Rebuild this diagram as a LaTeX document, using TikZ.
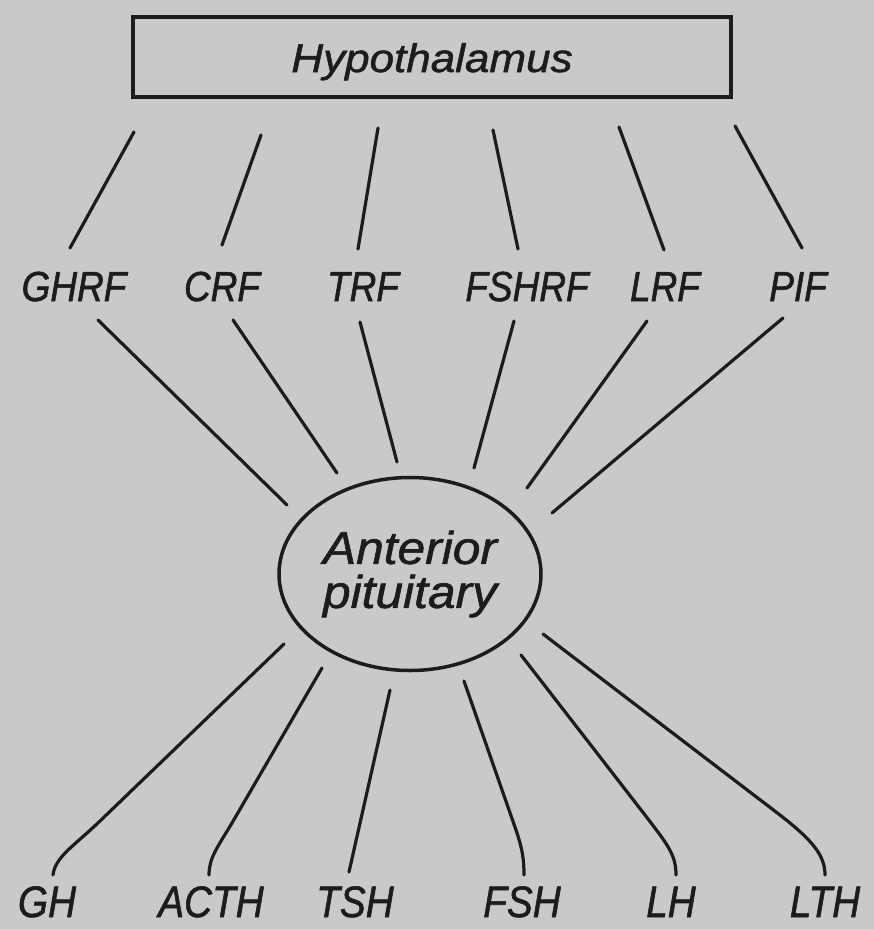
\documentclass[tikz,border=0pt]{standalone}
\usepackage{fontspec}
\setmainfont{Liberation Sans}
\newfontfamily\labfont{Liberation Sans}[FakeStretch=0.88, FakeBold=1.3]
\newfontfamily\hypfont{Liberation Sans}[FakeStretch=1.1, FakeBold=1.3]
\newfontfamily\apfont{Liberation Sans}[FakeStretch=1.08, FakeBold=1.3]
\usetikzlibrary{shapes.geometric}
\definecolor{bg}{RGB}{201,201,199}
\definecolor{ink}{RGB}{28,28,28}
\begin{document}
\begin{tikzpicture}[x=1pt,y=-1pt,
  link/.style={draw=ink, line width=3.2pt, line cap=round},
  toplab/.style={anchor=base, inner sep=0pt, text=ink, font=\labfont\itshape\fontsize{42}{42}\selectfont},
  botlab/.style={anchor=base, inner sep=0pt, text=ink, font=\labfont\itshape\fontsize{44}{44}\selectfont},
  hbox/.style={draw=ink, line width=4pt, minimum width=598pt, minimum height=80pt, inner sep=0pt,
    text height=32pt, text depth=2pt, text=ink, font=\hypfont\itshape\fontsize{40}{40}\selectfont},
  apit/.style={ellipse, draw=ink, line width=3.5pt, minimum width=262pt, minimum height=193pt,
    inner sep=0pt, align=center, text=ink, font=\apfont\itshape\fontsize{46}{44}\selectfont}]
\fill[bg] (0,0) rectangle (874,929);
\useasboundingbox (0,0) rectangle (874,929);

% nodes
\node[hbox] (hyp) at (432,57) {Hypothalamus};
\node[toplab] (ghrf) at (74,301) {GHRF};
\node[toplab] (crf) at (222,301) {CRF};
\node[toplab] (trf) at (363,301) {TRF};
\node[toplab] (fshrf) at (527,301) {FSHRF};
\node[toplab] (lrf) at (665,301) {LRF};
\node[toplab] (pif) at (798,301) {PIF};
\node[apit] (ap) at (410,574) {Anterior\\pituitary};
\node[botlab] (gh) at (47,917) {GH};
\node[botlab] (acth) at (211,917) {ACTH};
\node[botlab] (tsh) at (355,917) {TSH};
\node[botlab] (fsh) at (522,917) {FSH};
\node[botlab] (lh) at (671,917) {LH};
\node[botlab] (lth) at (825,917) {LTH};

% hypothalamus -> releasing factors
\draw[link] ([shift={(-298,75)}]hyp.center) -- ([shift={(-4,-53)}]ghrf.base);
\draw[link] ([shift={(-171,78)}]hyp.center) -- ([shift={(0,-56)}]crf.base);
\draw[link] ([shift={(-54,71)}]hyp.center) -- ([shift={(-5,-52)}]trf.base);
\draw[link] ([shift={(61,73)}]hyp.center) -- ([shift={(-9,-52)}]fshrf.base);
\draw[link] ([shift={(187,70)}]hyp.center) -- ([shift={(-1,-51)}]lrf.base);
\draw[link] ([shift={(303,69)}]hyp.center) -- ([shift={(4,-53)}]pif.base);

% releasing factors -> anterior pituitary
\draw[link] ([shift={(24,19)}]ghrf.base) -- ([shift={(-123,-69)}]ap.center);
\draw[link] ([shift={(11,19)}]crf.base) -- ([shift={(-73,-101)}]ap.center);
\draw[link] ([shift={(-3,21)}]trf.base) -- ([shift={(-13,-112)}]ap.center);
\draw[link] ([shift={(-13,20)}]fshrf.base) -- ([shift={(64,-106)}]ap.center);
\draw[link] ([shift={(-18,20)}]lrf.base) -- ([shift={(117,-86)}]ap.center);
\draw[link] ([shift={(-15,17)}]pif.base) -- ([shift={(142,-61)}]ap.center);

% anterior pituitary -> hormones
\draw[link] ([shift={(-126,70)}]ap.center) -- (100,821) .. controls (74,846) and (55,857) .. ([shift={(6,-42)}]gh.base);
\draw[link] ([shift={(-88,94)}]ap.center) -- (232,823) .. controls (217,848) and (209,858) .. ([shift={(-2,-42)}]acth.base);
\draw[link] ([shift={(-20,116)}]ap.center) -- ([shift={(-6,-45)}]tsh.base);
\draw[link] ([shift={(54,107)}]ap.center) -- (516,830) .. controls (522,848) and (524,858) .. ([shift={(2,-42)}]fsh.base);
\draw[link] ([shift={(111,81)}]ap.center) -- (645,815) .. controls (668,845) and (676,855) .. ([shift={(5,-42)}]lh.base);
\draw[link] ([shift={(133,60)}]ap.center) -- (780,815) .. controls (812,840) and (825,855) .. ([shift={(0,-42)}]lth.base);
\end{tikzpicture}
\end{document}
